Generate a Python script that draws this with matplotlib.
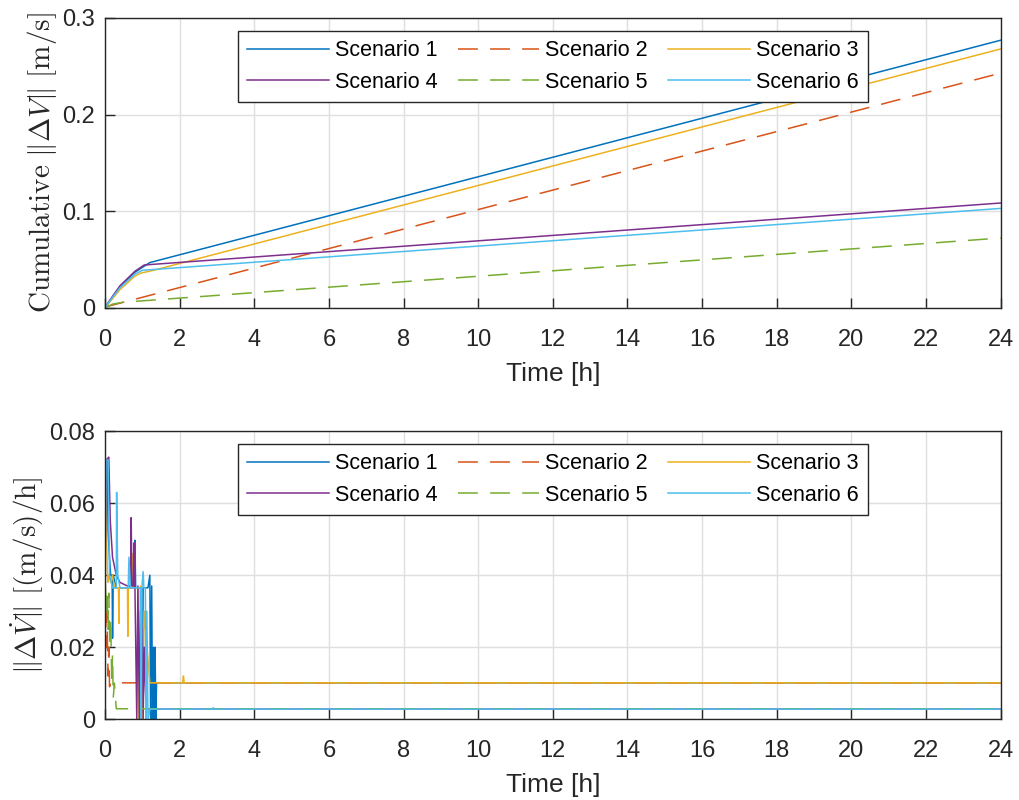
import matplotlib
matplotlib.use("Agg")
import matplotlib.pyplot as plt

plt.rcParams['font.family'] = ['Liberation Sans', 'DejaVu Sans']
plt.rcParams['mathtext.fontset'] = 'cm'

labels = ["Scenario 1", "Scenario 2", "Scenario 3", "Scenario 4", "Scenario 5", "Scenario 6"]
colors = ["#0072BD", "#D95319", "#EDB120", "#7E2F8E", "#77AC30", "#4DBEEE"]
styles = ["-", "--", "-", "-", "--", "-"]

# ---- cumulative delta-V [m/s] ----
cum_t1 = [0, 0.1, 0.4, 0.8, 1.2, 24]
cum_v1 = [0, 0.006, 0.022, 0.037, 0.047, 0.277]
cum_t2 = [0, 24]
cum_v2 = [0.001, 0.243]
cum_t3 = [0, 0.1, 0.4, 0.8, 0.95, 1.3, 24]
cum_v3 = [0, 0.005, 0.019, 0.033, 0.036, 0.039, 0.268]
cum_t4 = [0, 0.1, 0.4, 0.8, 1.05, 24]
cum_v4 = [0, 0.0065, 0.023, 0.038, 0.0445, 0.1086]
cum_t5 = [0, 0.2, 0.5, 24]
cum_v5 = [0, 0.004, 0.006, 0.0724]
cum_t6 = [0, 0.1, 0.4, 0.8, 1.0, 24]
cum_v6 = [0, 0.006, 0.021, 0.035, 0.039, 0.103]

# ---- delta-V rate [(m/s)/h] ----
rate_t1 = [0, 0.03, 0.06, 0.08, 0.12, 0.15, 0.19, 0.2, 0.22, 0.3, 0.6, 0.78, 0.8, 0.82, 0.98, 1.0, 1.02,
           1.15, 1.2, 1.22, 1.25, 1.27, 1.3, 1.32, 1.34, 1.36, 1.38, 24]
rate_r1 = [0.045, 0.072, 0.072, 0.052, 0.045, 0.04, 0.04, 0.0225, 0.04, 0.0365, 0.0365, 0.0365, 0.0497,
           0.0365, 0.0365, 0.0, 0.0365, 0.0365, 0.04, 0.0, 0.037, 0.0, 0.02, 0.0, 0.02, 0.0, 0.0101, 0.0101]
rate_t2 = [0, 0.03, 0.05, 0.08, 0.1, 0.12, 0.15, 24]
rate_r2 = [0.04, 0.02, 0.03, 0.012, 0.02, 0.009, 0.0101, 0.0101]
rate_t3 = [0, 0.02, 0.04, 0.07, 0.1, 0.15, 0.2, 0.25, 0.36, 0.37, 0.38, 0.6, 0.61, 0.62, 0.72, 0.74,
           0.76, 0.88, 0.9, 0.95, 1.0, 1.05, 1.2, 2.08, 2.1, 2.12, 24]
rate_r3 = [0.072, 0.072, 0.05, 0.038, 0.04, 0.038, 0.04, 0.0365, 0.0365, 0.0266, 0.0365, 0.0365, 0.023,
           0.0365, 0.0365, 0.046, 0.0365, 0.0365, 0.0, 0.037, 0.0, 0.03, 0.0101, 0.0101, 0.012, 0.0101, 0.0101]
rate_t4 = [0, 0.03, 0.1, 0.14, 0.2, 0.3, 0.4, 0.6, 0.68, 0.7, 0.72, 0.76, 0.78, 0.8, 0.85, 0.88,
           0.92, 0.95, 1.0, 1.02, 1.05, 1.1, 24]
rate_r4 = [0.04, 0.072, 0.0728, 0.055, 0.045, 0.04, 0.038, 0.037, 0.037, 0.056, 0.037, 0.037, 0.049,
           0.037, 0.0, 0.037, 0.0, 0.03, 0.025, 0.0, 0.02, 0.0028, 0.0028]
rate_t5 = [0, 0.03, 0.05, 0.08, 0.1, 0.13, 0.15, 0.18, 0.2, 0.22, 0.25, 0.3, 24]
rate_r5 = [0.04, 0.03, 0.036, 0.025, 0.035, 0.02, 0.028, 0.01, 0.018, 0.006, 0.01, 0.0029, 0.0029]
rate_t6 = [0, 0.03, 0.08, 0.12, 0.2, 0.3, 0.31, 0.34, 0.4, 0.62, 0.64, 0.68, 0.9, 0.95, 0.97, 0.99,
           1.02, 1.04, 1.08, 1.1, 1.12, 1.15, 1.2, 2.88, 2.9, 2.92, 24]
rate_r6 = [0.045, 0.072, 0.072, 0.04, 0.0365, 0.0365, 0.063, 0.04, 0.0365, 0.0365, 0.045, 0.0365,
           0.0365, 0.0365, 0.0, 0.037, 0.041, 0.0365, 0.0365, 0.0, 0.03, 0.0, 0.0028, 0.0028, 0.0032,
           0.0028, 0.0028]

cum_t = [cum_t1, cum_t2, cum_t3, cum_t4, cum_t5, cum_t6]
cum_v = [cum_v1, cum_v2, cum_v3, cum_v4, cum_v5, cum_v6]
rate_t = [rate_t1, rate_t2, rate_t3, rate_t4, rate_t5, rate_t6]
rate_r = [rate_r1, rate_r2, rate_r3, rate_r4, rate_r5, rate_r6]

x_ticks = list(range(0, 25, 2))
top_yticks = [0, 0.1, 0.2, 0.3]
bot_yticks = [0, 0.02, 0.04, 0.06, 0.08]

fig = plt.figure(figsize=(10.2, 8), dpi=100)
ax1 = fig.add_axes([0.103, 0.615, 0.878, 0.3625])
ax2 = fig.add_axes([0.103, 0.101, 0.878, 0.360])

def style_axes(ax, yticks, ylim):
    ax.set_xlim(0, 24)
    ax.set_ylim(*ylim)
    ax.set_xticks(x_ticks)
    ax.set_yticks(yticks)
    ax.set_yticklabels([("%g" % v) for v in yticks])
    ax.grid(True, color="#dfdfdf", linewidth=1.0)
    ax.set_axisbelow(True)
    ax.tick_params(direction="in", length=7, width=1, colors="#262626", labelsize=17, labelcolor="#262626")
    ax.tick_params(axis="x", pad=15)
    ax.tick_params(axis="y", pad=7)
    for s in ax.spines.values():
        s.set_color("#262626")
        s.set_linewidth(1.0)
    ax.set_xlabel("Time [h]", fontsize=19, color="#262626", labelpad=8)

dash = (0, (13, 8))
for i in range(6):
    ls = dash if styles[i] == "--" else "-"
    ax1.plot(cum_t[i], cum_v[i], color=colors[i], linestyle=ls, linewidth=1.1, label=labels[i])
    ax2.plot(rate_t[i], rate_r[i], color=colors[i], linestyle=ls, linewidth=1.1, label=labels[i])

style_axes(ax1, top_yticks, (0, 0.3))
style_axes(ax2, bot_yticks, (0, 0.08))
ax1.set_ylabel(r"$\mathrm{Cumulative}\ \|\Delta V\|\ [\mathrm{m/s}]$", fontsize=21, color="#262626", labelpad=2.5)
ax2.set_ylabel(r"$\|\Delta\dot{V}\|\ [(\mathrm{m/s})/\mathrm{h}]$", fontsize=21, color="#262626", labelpad=2.5)

order = [0, 3, 1, 4, 2, 5]
for ax in (ax1, ax2):
    h, l = ax.get_legend_handles_labels()
    leg = ax.legend([h[k] for k in order], [l[k] for k in order],
                    loc="upper center", bbox_to_anchor=(0.5, 0.955), ncol=3, fontsize=15.5,
                    handlelength=3.8, handletextpad=0.28, columnspacing=0.93, labelspacing=0.5,
                    fancybox=False, framealpha=1, edgecolor="#262626", borderpad=0.42, borderaxespad=0)
    leg.get_frame().set_linewidth(1.0)

fig.savefig("out.png", dpi=100)
